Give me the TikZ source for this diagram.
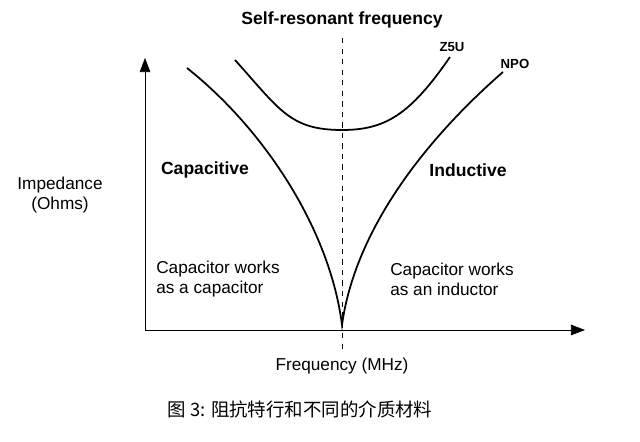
\documentclass[tikz,border=0pt]{standalone}
\usepackage{fontspec}
\setmainfont{Liberation Sans}
\newfontfamily\cjk{Noto Sans CJK SC}
\usetikzlibrary{arrows.meta,positioning}
\tikzset{
  lbl/.style={font=\fontsize{9.8}{11.5}\selectfont, align=center},
  bold/.style={font=\bfseries\fontsize{10}{12}\selectfont},
  curve/.style={line width=1pt}
}
\begin{document}
\begin{tikzpicture}[x=0.02cm,y=-0.02cm]
  \useasboundingbox (0,0) rectangle (640,442);
  \coordinate (origin) at (145,330);
  \coordinate (ytop) at (145,58);
  \coordinate (xend) at (585,330);
  \coordinate (dtop) at (342,38);
  \coordinate (dbot) at (342,352);

  \draw[-{Triangle[length=8pt,width=6pt]}] (origin) -- (ytop);
  \draw[-{Triangle[length=8pt,width=6pt]}] (origin) -- (xend);
  \draw[dashed] (dtop) -- (dbot);

  % NPO
  \draw[curve] (187,68) .. controls (265,130) and (330,230) .. (342,325)
               .. controls (355,230) and (425,140) .. (503,72);
  % Z5U
  \draw[curve] (235,60) .. controls (280,110) and (290,130) .. (342,130)
               .. controls (385,130) and (410,115) .. (450,57);

  \node[bold] (title) at (342,20) {Self-resonant frequency};
  \node[font=\bfseries\fontsize{7.5}{9}\selectfont] (z5u) at (452,47) {Z5U};
  \node[font=\bfseries\fontsize{7.5}{9}\selectfont] (npo) at (515,64) {NPO};
  \node[bold] (cap) at (205,170) {Capacitive};
  \node[bold] (ind) at (468,170) {Inductive};
  \node[lbl] (imp) at (60,195) {Impedance\\(Ohms)};
  \node[lbl, align=left] (lw) at (218,279) {Capacitor works\\as a capacitor};
  \node[lbl, align=left] (rw) at (452,279) {Capacitor works\\as an inductor};
  \node[lbl] (freq) at (342,366) {Frequency (MHz)};
  \node[font=\cjk\fontsize{10.5}{12}\selectfont] (cap3) at (300,409) {图 3: 阻抗特行和不同的介质材料};
\end{tikzpicture}
\end{document}
